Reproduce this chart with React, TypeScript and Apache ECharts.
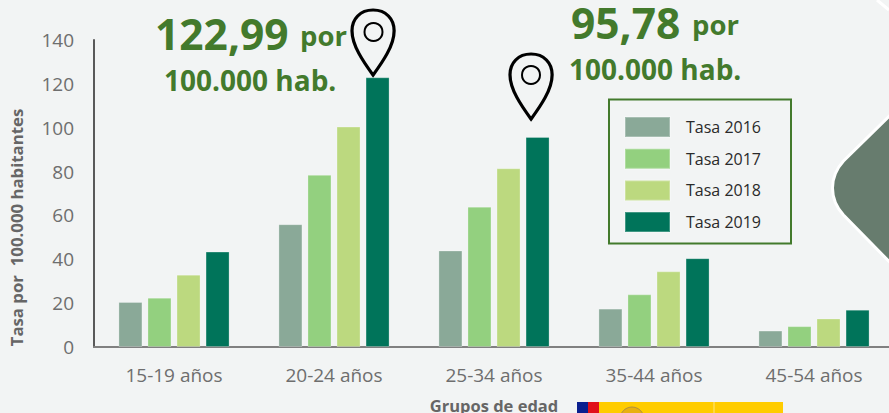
import React, { useEffect, useRef } from "react";
import * as echarts from "echarts";

const categories = ["15-19 años", "20-24 años", "25-34 años", "35-44 años", "45-54 años"];
const tasa2016 = [20.5, 56, 44, 17.5, 7.5];
const tasa2017 = [22.5, 78.5, 64, 24, 9.5];
const tasa2018 = [33, 100.5, 81.5, 34.5, 13];
const tasa2019 = [43.5, 122.99, 95.78, 40.5, 17];
const seriesNames = ["Tasa 2016", "Tasa 2017", "Tasa 2018", "Tasa 2019"];
const seriesColors = ["#8aa998", "#93d07f", "#bcd97f", "#00745a"];
const FONT = "'Open Sans', sans-serif";
const GREEN = "#437a2c";
const PIN = "M13 0C5 0 0 6 0 14C0 24 7 35 13 44C19 35 26 24 26 14C26 6 21 0 13 0Z";
const DIAMOND = "M60 0L11 48Q0 60 0 75Q0 90 11 102L60 152L70 152L70 0Z";

echarts.graphic.registerShape("pin", echarts.graphic.extendPath(PIN, {}) as any);
echarts.graphic.registerShape("diamond", echarts.graphic.extendPath(DIAMOND, {}) as any);

const pin = (x: number, y: number) => ({ type: "pin", x, y, scaleX: 1.62, scaleY: 1.48, z: 20, style: { fill: "none", stroke: "#000", lineWidth: 2 } });
const title = (text: string, x: number, y: number, fontSize: number) => ({ type: "text", z: 20, x, y, style: { text, fontFamily: FONT, fontSize, fontWeight: "bold", fill: GREEN } });

export default function App() {
  const ref = useRef<HTMLDivElement>(null);
  useEffect(() => {
    const chart = echarts.init(ref.current!, undefined, { renderer: "svg" });
    chart.setOption({
      animation: false,
      backgroundColor: "#f2f4f4",
      grid: { left: 94, right: -5, top: 40, bottom: 66, outerBoundsMode: "none", containLabel: false },
      legend: {
        orient: "vertical", left: 624, top: 116, padding: 0, itemWidth: 45, itemHeight: 20, itemGap: 9.7,
        icon: "rect", data: seriesNames,
        textStyle: { fontFamily: FONT, fontSize: 16, lineHeight: 20, color: "#2a2a2a", padding: [0, 0, 0, 11] },
      },
      xAxis: {
        type: "category", data: categories,
        name: "Grupos de edad", nameLocation: "middle", nameGap: 50,
        nameTextStyle: { fontFamily: FONT, fontSize: 16.5, fontWeight: "bold", color: "#666" },
        axisLine: { lineStyle: { color: "#808080", width: 2 } }, axisTick: { show: false },
        axisLabel: { fontFamily: FONT, fontSize: 19, color: "#6e6e6e", margin: 18 },
      },
      yAxis: {
        type: "value", min: 0, max: 140, interval: 20,
        axisLine: { show: true, lineStyle: { color: "#595959", width: 2 } }, axisTick: { show: false },
        splitLine: { show: false },
        axisLabel: { fontFamily: FONT, fontSize: 19, color: "#6e6e6e", margin: 20 },
      },
      series: [tasa2016, tasa2017, tasa2018, tasa2019].map((data, i) => ({
        name: seriesNames[i], type: "bar", data, barWidth: 24, barGap: "21%",
        itemStyle: { color: seriesColors[i], borderColor: "rgba(255,255,255,0.25)", borderWidth: 1 },
      })),
      graphic: [
        { type: "diamond", z: 1, x: 832.5, y: 113, style: { fill: "#677c6e", stroke: "#fff", lineWidth: 3 } },
        { type: "line", z: 1, shape: { x1: 877, y1: 0, x2: 889, y2: 10 }, style: { stroke: "#fff", lineWidth: 3 } },
        { type: "rect", z: 1, shape: { x: 609, y: 99.5, width: 182, height: 144 }, style: { fill: "none", stroke: GREEN, lineWidth: 2 } },
        { type: "text", z: 20, x: 16, y: 227.5, rotation: Math.PI / 2, style: { text: "Tasa por  100.000 habitantes", fontFamily: FONT, fontSize: 16.8, fontWeight: "bold", fill: "#666", align: "center", verticalAlign: "middle" } },
        pin(352, 10), { type: "circle", z: 20, shape: { cx: 373.5, cy: 32, r: 9 }, style: { fill: "none", stroke: "#000", lineWidth: 2 } },
        pin(510, 54), { type: "circle", z: 20, shape: { cx: 531, cy: 75, r: 9 }, style: { fill: "none", stroke: "#000", lineWidth: 2 } },
        title("122,99", 155, 11.5, 42.5),
        title("por", 300, 21.5, 27.5),
        title("100.000 hab.", 164, 66, 28),
        title("95,78", 571, 0.5, 42.5),
        title("por", 692, 10.5, 27.5),
        title("100.000 hab.", 569, 55, 28),
        { type: "rect", z: 20, shape: { x: 577, y: 402, width: 11, height: 11 }, style: { fill: "#0a1f8f" } },
        { type: "rect", z: 20, shape: { x: 588, y: 402, width: 11, height: 11 }, style: { fill: "#e0101a" } },
        { type: "rect", z: 20, shape: { x: 599, y: 402, width: 184, height: 11 }, style: { fill: "#ffcc00" } },
        { type: "line", z: 21, shape: { x1: 714, y1: 402, x2: 714, y2: 413 }, style: { stroke: "#ffe680", lineWidth: 1 } },
        { type: "circle", z: 21, shape: { cx: 632, cy: 419, r: 12 }, style: { fill: "#e8b010", stroke: "#b09040", lineWidth: 1 } },
      ],
    });
    return () => chart.dispose();
  }, []);
  return <div ref={ref} style={{ width: 889, height: 413, position: "fixed", left: 0, top: 0 }} />;
}
